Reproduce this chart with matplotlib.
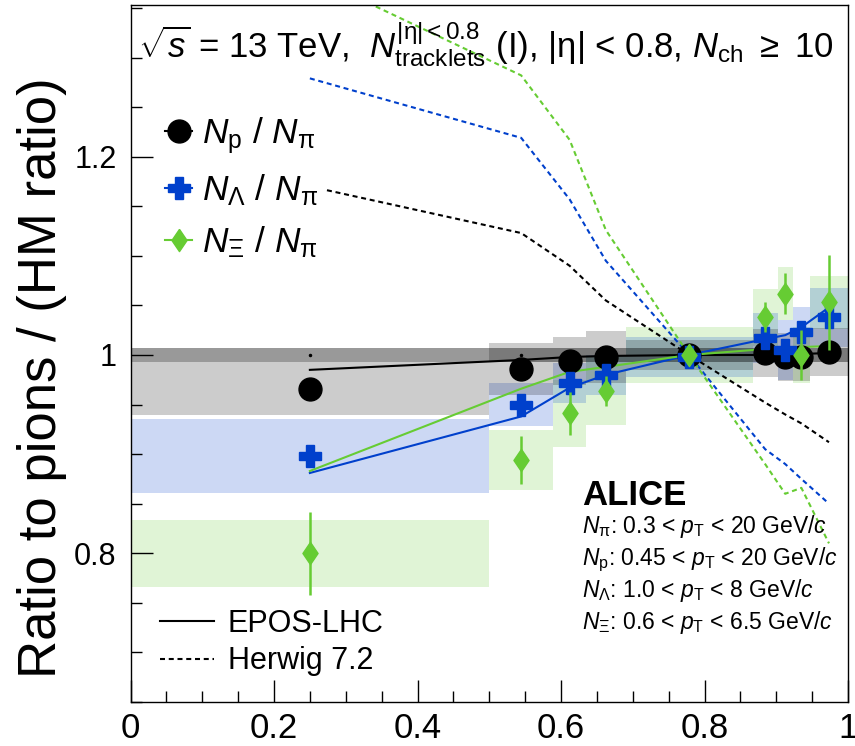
import numpy as np
import matplotlib
matplotlib.use('Agg')
import matplotlib.pyplot as plt
from matplotlib.lines import Line2D
from matplotlib.ticker import MultipleLocator

plt.rcParams['font.family'] = ['Liberation Sans', 'DejaVu Sans']
plt.rcParams['mathtext.fontset'] = 'custom'
plt.rcParams['mathtext.rm'] = 'Liberation Sans'
plt.rcParams['mathtext.it'] = 'Liberation Sans:italic'
plt.rcParams['mathtext.bf'] = 'Liberation Sans:bold'

# multiplicity classes (self-normalised), bin edges
bin_lo = [0.0, 0.5, 0.589, 0.635, 0.69, 0.867, 0.902, 0.923, 0.947]
bin_hi = [0.5, 0.589, 0.635, 0.69, 0.867, 0.902, 0.923, 0.947, 1.0]

# p / pi
p_val  = [0.966, 0.986, 0.994, 0.998, 1.000, 1.002, 0.998, 0.998, 1.003]
p_stat = [0.003, 0.003, 0.003, 0.003, 0.003, 0.003, 0.003, 0.003, 0.003]
p_sys  = [0.027, 0.026, 0.024, 0.026, 0.015, 0.024, 0.024, 0.024, 0.024]

# Lambda / pi
lam_val  = [0.898, 0.950, 0.972, 0.980, 0.998, 1.017, 1.005, 1.023, 1.038]
lam_stat = [0.004, 0.004, 0.004, 0.004, 0.004, 0.005, 0.005, 0.005, 0.006]
lam_sys  = [0.0375, 0.022, 0.020, 0.020, 0.020, 0.025, 0.030, 0.025, 0.030]

# Xi / pi
xi_val  = [0.800, 0.894, 0.941, 0.964, 1.000, 1.038, 1.062, 1.000, 1.053]
xi_stat = [0.042, 0.024, 0.022, 0.015, 0.010, 0.015, 0.021, 0.025, 0.048]
xi_sys  = [0.034, 0.030, 0.034, 0.035, 0.028, 0.029, 0.027, 0.028, 0.027]

# uncertainty of the reference (HM) class
hm_unc = 0.007

# model predictions at the class centres
epos_p   = [0.985, 0.995, 0.998, 0.999, 1.000, 1.000, 1.001, 1.001, 1.002]
epos_lam = [0.881, 0.938, 0.967, 0.980, 1.000, 1.016, 1.020, 1.028, 1.048]
epos_xi  = [0.883, 0.966, 0.983, 0.988, 1.000, 1.006, 1.007, 1.008, 1.009]
herw_p   = [1.170, 1.123, 1.090, 1.055, 1.000, 0.952, 0.940, 0.931, 0.912]
herw_lam = [1.279, 1.219, 1.157, 1.095, 1.000, 0.905, 0.890, 0.875, 0.850]
herw_xi  = [1.383, 1.282, 1.217, 1.126, 1.000, 0.890, 0.860, 0.866, 0.810]

pt_ranges = [r'$N_{\mathrm{\pi}}$: 0.3 < $p_{\mathrm{T}}$ < 20 GeV/$c$',
             r'$N_{\mathrm{p}}$: 0.45 < $p_{\mathrm{T}}$ < 20 GeV/$c$',
             r'$N_{\mathrm{\Lambda}}$: 1.0 < $p_{\mathrm{T}}$ < 8 GeV/$c$',
             r'$N_{\mathrm{\Xi}}$: 0.6 < $p_{\mathrm{T}}$ < 6.5 GeV/$c$']

lo = np.array(bin_lo)
hi = np.array(bin_hi)
xc = 0.5 * (lo + hi)
wd = hi - lo

black = '#000000'
blue = '#0040cc'
green = '#66cc33'
diamond = [(0, 1), (0.68, 0), (0, -1), (-0.68, 0), (0, 1)]

fig = plt.figure(figsize=(8.55, 7.46), dpi=100)
ax = fig.add_axes([130.5 / 855, 44 / 746, 717.5 / 855, 697 / 746])

# systematic boxes
for val, sys_, col in [(xi_val, xi_sys, green), (lam_val, lam_sys, blue), (p_val, p_sys, black)]:
    v = np.array(val)
    s = np.array(sys_)
    ax.bar(lo, 2 * s, width=wd, bottom=v - s, align='edge', color=col,
           alpha=0.2, linewidth=0, zorder=1)

ax.axhspan(1 - hm_unc, 1 + hm_unc, color='black', alpha=0.4, linewidth=0, zorder=1.5)
ax.plot(xc, np.ones_like(xc), ls='none', marker='o', ms=1.5, color='black', zorder=1.6)

# models
for vals, col in [(epos_p, black), (epos_lam, blue), (epos_xi, green)]:
    ax.plot(xc, vals, color=col, lw=1.5, zorder=2)
for vals, col in [(herw_p, black), (herw_lam, blue), (herw_xi, green)]:
    ax.plot(xc, vals, color=col, lw=1.5, dashes=(2.4, 1.8), zorder=2)

# data
ax.errorbar(xc, p_val, yerr=p_stat, fmt='o', color=black, ms=16.5, elinewidth=1.5, capsize=0, zorder=3)
ax.errorbar(xc, lam_val, yerr=lam_stat, fmt='P', color=blue, ms=16, elinewidth=1.5, capsize=0, zorder=3.1)
ax.errorbar(xc, xi_val, yerr=xi_stat, ls='none', marker=diamond, color=green, ms=16,
            elinewidth=1.8, capsize=0, zorder=3.2)

ax.set_xlim(0, 1)
ax.set_ylim(0.65, 1.353)
ax.xaxis.set_minor_locator(MultipleLocator(0.05))
ax.yaxis.set_minor_locator(MultipleLocator(0.05))
ax.set_xticks([0, 0.2, 0.4, 0.6, 0.8, 1.0])
ax.set_xticklabels(['0', '0.2', '0.4', '0.6', '0.8', '1'])
ax.set_yticks([0.8, 1.0, 1.2])
ax.set_yticklabels(['0.8', '1', '1.2'])
ax.tick_params(axis='both', which='both', direction='in', top=False, right=False, width=1)
ax.tick_params(axis='both', which='major', length=16)
ax.tick_params(axis='both', which='minor', length=8)
ax.tick_params(axis='x', labelsize=25, pad=7)
ax.tick_params(axis='y', labelsize=22, pad=10)
for sp in ax.spines.values():
    sp.set_linewidth(1.0)

ax.text(-0.1234, 0.466, 'Ratio to pions / (HM ratio)', transform=ax.transAxes,
        rotation=90, ha='center', va='center', fontsize=38)

ax.text(0.010, 0.925, r'$\sqrt{s}$ = 13 TeV,  $N_{\mathrm{tracklets}}^{\mathrm{|\eta| < 0.8}}$ (I), '
        r'|$\mathrm{\eta}$| < 0.8, $N_{\mathrm{ch}}$ $\geq$ 10',
        transform=ax.transAxes, fontsize=25, va='baseline')

ax.text(0.629, 0.283, 'ALICE', transform=ax.transAxes, fontsize=25, fontweight='bold', va='baseline')
for i, s in enumerate(pt_ranges):
    ax.text(0.629, 0.2425 - i * 0.0459, s, transform=ax.transAxes, fontsize=16.5, va='baseline')

# legends
data_handles = [
    Line2D([], [], color=black, marker='o', ms=16.5, lw=1.5),
    Line2D([], [], color=blue, marker='P', ms=16, lw=1.5),
    Line2D([], [], color=green, marker=diamond, ms=16, lw=1.5),
]
data_labels = [r'$N_{\mathrm{p}}$ / $N_{\mathrm{\pi}}$',
               r'$N_{\mathrm{\Lambda}}$ / $N_{\mathrm{\pi}}$',
               r'$N_{\mathrm{\Xi}}$ / $N_{\mathrm{\pi}}$']
leg1 = ax.legend(data_handles, data_labels, loc='upper left', bbox_to_anchor=(0.041, 0.850),
                 fontsize=25.5, frameon=True, facecolor='white', edgecolor='none', framealpha=1,
                 handlelength=0.75, handletextpad=0.3, labelspacing=0.47, borderpad=0.15,
                 borderaxespad=0)
ax.add_artist(leg1)

model_handles = [Line2D([], [], color=black, lw=1.5),
                 Line2D([], [], color=black, lw=1.5, dashes=(2.4, 1.8))]
ax.legend(model_handles, ['EPOS-LHC', 'Herwig 7.2'], loc='lower left',
          bbox_to_anchor=(0.033, 0.028), fontsize=22, frameon=False,
          handlelength=1.77, handletextpad=0.43, labelspacing=0.25, borderpad=0.2,
          borderaxespad=0)

fig.savefig('out.png', dpi=100)
